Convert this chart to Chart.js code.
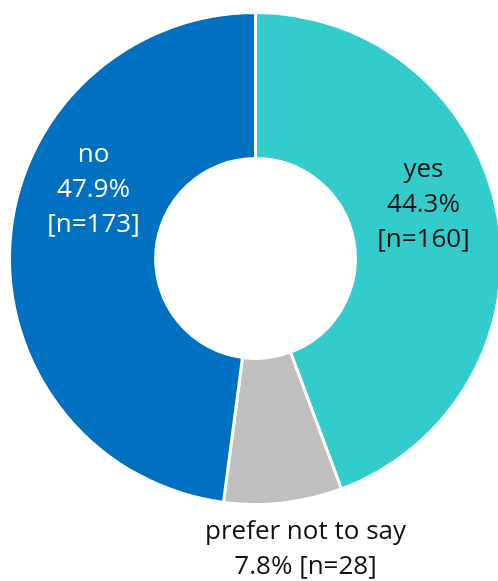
<!DOCTYPE html>
<html>
<head>
<meta charset="utf-8">
<script src="https://cdn.jsdelivr.net/npm/chart.js@4/dist/chart.umd.min.js"></script>
<style>
    html, body { margin: 0; padding: 0; background: #ffffff; overflow: hidden; }
    #wrap { position: absolute; left: 0; top: 0; width: 503px; height: 581px; }
</style>
</head>
<body>
<div id="wrap"><canvas id="pollChart"></canvas></div>
<script>
// Survey answers, clockwise from 12 o'clock
const answers = ['yes', 'prefer not to say', 'no'];
const counts = [160, 28, 173];
const sliceColors = ['#33CCCC', '#BFBFBF', '#0070C0'];
const labelColors = ['#111111', '#111111', '#ffffff'];

const total = counts.reduce((a, b) => a + b, 0);
const pct = v => (v / total * 100).toFixed(1) + '%';

// label lines and where they sit, as offsets from the doughnut centre
const labelLines = [
    [answers[0], pct(counts[0]), '[n=' + counts[0] + ']'],
    [answers[1], pct(counts[1]) + ' [n=' + counts[1] + ']'],
    [answers[2], pct(counts[2]), '[n=' + counts[2] + ']']
];
const labelOffsets = [
    { dx: 168, dy: -82 },
    { dx: 50, dy: 280 },
    { dx: -162, dy: -97 }
];

// writes the answer / percent / count text for every slice
const sliceLabels = {
    id: 'sliceLabels',
    afterDraw(chart) {
        const ctx = chart.ctx;
        const arcs = chart.getDatasetMeta(0).data;
        ctx.save();
        ctx.font = '26px "Open Sans", sans-serif';
        ctx.textAlign = 'center';
        ctx.textBaseline = 'alphabetic';
        arcs.forEach((arc, i) => {
            const x = arc.x + labelOffsets[i].dx;
            const y = arc.y + labelOffsets[i].dy;
            ctx.fillStyle = labelColors[i];
            labelLines[i].forEach((line, j) => {
                ctx.fillText(line, x, y + j * 35);
            });
        });
        ctx.restore();
    }
};

new Chart(document.getElementById('pollChart'), {
    type: 'doughnut',
    data: {
        labels: answers,
        datasets: [{
            data: counts,
            backgroundColor: sliceColors,
            borderColor: '#ffffff',
            borderWidth: 3
        }]
    },
    options: {
        responsive: true,
        maintainAspectRatio: false,
        animation: false,
        cutout: '40.6%',
        layout: { padding: { left: 8, right: 0, top: 11, bottom: 75 } },
        plugins: {
            legend: { display: false },
            tooltip: { enabled: false }
        }
    },
    plugins: [sliceLabels]
});
</script>
</body>
</html>
